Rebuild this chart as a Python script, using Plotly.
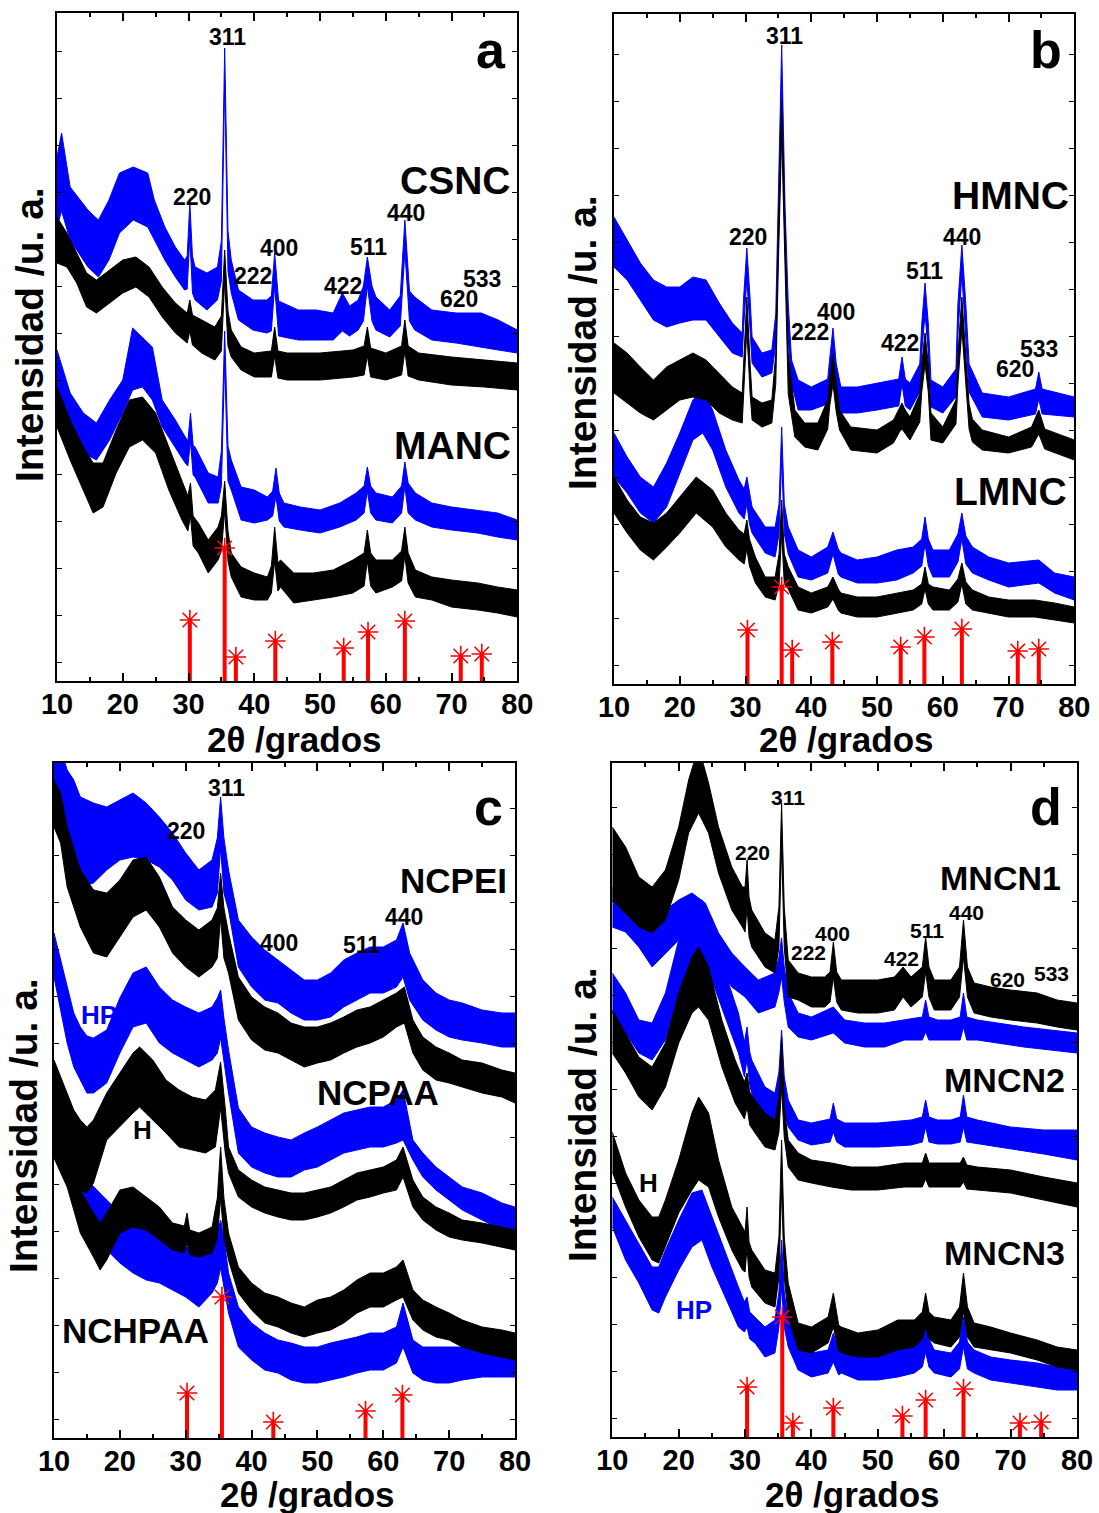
import plotly.graph_objects as go

# ------------------------------------------------------------------
# Panel a  (intensity in arbitrary units, axis 0..668)
# ------------------------------------------------------------------
a_csnc_blue_x = [10, 10.7, 12, 14.7, 16.3, 17.9, 19.5, 21.6, 23.8, 24.8, 26.4, 28.0, 29.4, 29.8, 30.2, 30.6, 31.0, 32.8, 34.4, 35.0,
                 35.5, 36.0, 36.5, 37.6, 39.8, 41.9, 42.6, 43.1, 43.7, 46.7, 49.4, 52.0, 53.4, 54.5, 55.8, 56.6, 57.2, 57.9, 58.5, 60.6,
                 62.2, 62.9, 63.6, 64.4, 67.0, 70.7, 74.5, 77.1, 80]
a_csnc_blue_hi = [524, 548, 494, 471, 461, 481, 508, 514, 508, 481, 454, 434, 421, 425, 478, 425, 414, 408, 414, 440,
                  633, 450, 421, 391, 381, 381, 385, 428, 380, 371, 371, 368, 388, 375, 381, 395, 424, 395, 384, 371,
                  385, 461, 390, 384, 371, 368, 368, 361, 351]
a_csnc_blue_lo = [454, 470, 441, 414, 404, 421, 448, 461, 454, 441, 421, 404, 391, 392, 445, 388, 381, 371, 381, 400,
                  600, 410, 388, 361, 351, 348, 350, 395, 345, 341, 341, 341, 350, 345, 351, 360, 395, 360, 351, 344,
                  355, 430, 360, 351, 341, 338, 334, 331, 328]

a_csnc_black_x = [10, 11.5, 13, 14.5, 16, 18, 20, 22, 24, 26, 28, 29.8, 30.2, 30.6, 32, 34, 35.0, 35.5, 36.0, 36.5,
                  38, 40, 42.6, 43.1, 43.6, 45, 50, 55, 56.7, 57.2, 57.7, 60, 62.4, 62.9, 63.4, 65, 70, 75, 80]
a_csnc_black_hi = [464, 448, 428, 408, 401, 411, 421, 424, 414, 394, 378, 368, 381, 366, 361, 354, 365, 431, 370, 351,
                   334, 328, 330, 354, 330, 328, 328, 331, 335, 354, 333, 328, 335, 361, 335, 328, 324, 321, 318]
a_csnc_black_lo = [418, 414, 398, 374, 368, 378, 388, 394, 384, 364, 348, 338, 350, 336, 328, 321, 330, 400, 335, 324,
                   311, 304, 304, 325, 303, 301, 301, 304, 306, 325, 304, 301, 306, 330, 305, 301, 296, 294, 291]

a_manc_blue_x = [10, 12, 14, 16, 18, 20, 21.5, 23, 24.5, 26, 28, 29.5, 29.9, 30.3, 30.7, 31, 33, 34.5, 35.0, 35.5,
                 36.0, 36.5, 38, 40, 42, 42.8, 43.3, 43.8, 44.5, 47, 50, 53, 55.5, 56.7, 57.2, 57.7, 58.5, 61, 62.4, 62.9,
                 63.4, 64.5, 67, 70, 74, 77, 80]
a_manc_blue_hi = [331, 288, 268, 258, 281, 301, 353, 344, 334, 281, 261, 244, 240, 268, 236, 234, 208, 204, 230, 350,
                  235, 221, 194, 191, 184, 190, 213, 188, 178, 174, 171, 178, 188, 195, 214, 195, 188, 184, 195, 219,
                  198, 188, 178, 174, 171, 168, 161]
a_manc_blue_lo = [268, 248, 228, 221, 241, 268, 291, 294, 281, 254, 234, 218, 215, 240, 206, 204, 178, 178, 195, 320,
                  200, 191, 161, 158, 161, 165, 185, 160, 154, 151, 148, 154, 161, 168, 190, 168, 161, 158, 168, 195,
                  168, 161, 154, 151, 148, 144, 141]

a_manc_black_x = [10, 12, 14, 15.5, 17, 19, 21, 23, 25, 27, 29, 29.9, 30.3, 30.7, 31.5, 33, 34.5, 35.0, 35.5, 36.0,
                  36.5, 38, 40, 42, 42.6, 43.1, 43.6, 44, 46, 49, 52, 55, 56.7, 57.2, 57.7, 58.5, 61, 62.4, 62.9, 63.4,
                  64.5, 67, 70, 74, 77, 80]
a_manc_black_hi = [294, 261, 234, 218, 218, 251, 281, 284, 268, 234, 201, 185, 198, 165, 158, 141, 154, 165, 200, 150,
                   128, 114, 108, 104, 115, 154, 118, 121, 108, 108, 111, 121, 128, 151, 128, 121, 121, 130, 154, 128,
                   111, 104, 101, 98, 94, 91]
a_manc_black_lo = [254, 221, 191, 168, 174, 208, 234, 241, 228, 191, 161, 150, 165, 135, 128, 108, 121, 130, 170, 120,
                   104, 84, 81, 81, 88, 120, 90, 94, 78, 81, 84, 88, 95, 120, 95, 88, 94, 100, 125, 98,
                   84, 81, 74, 71, 68, 64]

a_ref_pos = [30.2, 35.5, 37.2, 43.2, 53.6, 57.3, 62.9, 71.4, 74.6]
a_ref_int = [61, 133, 24, 40, 33, 49, 60, 25, 27]

a_hkl = ["311", "220", "400", "222", "422", "511", "440", "620", "533"]
a_hkl_x = [36.0, 30.6, 43.8, 39.8, 53.5, 57.3, 63.0, 71.2, 74.7]
a_hkl_y = [644, 484, 433, 405, 395, 434, 468, 382, 402]
a_names = ["CSNC", "MANC"]
a_names_x = [79.3, 79.3]
a_names_y = [501, 236]

# ------------------------------------------------------------------
# Panel b  (axis 0..670)
# ------------------------------------------------------------------
b_hmnc_blue_x = [10, 12, 14, 16, 18, 20, 22, 24, 26, 28, 29.5, 29.7, 30.2, 30.7, 31, 32.5, 34, 34.6, 35.0, 35.5,
                 36.0, 36.5, 37, 38, 40, 42.5, 42.8, 43.3, 43.8, 44.5, 47, 50, 53.3, 53.8, 54.3, 55, 56.5, 56.8, 57.3, 57.8,
                 58.2, 60, 62, 62.3, 62.9, 63.5, 64.0, 66, 70, 74.1, 74.6, 75.1, 80]
b_hmnc_blue_hi = [467, 444, 421, 404, 397, 397, 407, 404, 381, 361, 351, 385, 436, 385, 347, 331, 334, 370, 480, 639,
                  480, 380, 324, 304, 297, 305, 325, 356, 320, 297, 297, 301, 305, 327, 305, 301, 320, 360, 401, 360,
                  304, 297, 315, 380, 439, 380, 320, 291, 287, 295, 312, 295, 287]
b_hmnc_blue_lo = [417, 404, 384, 364, 357, 361, 364, 364, 347, 331, 327, 355, 405, 355, 321, 307, 311, 340, 440, 600,
                  440, 345, 301, 274, 274, 280, 298, 330, 292, 271, 271, 274, 278, 300, 278, 274, 292, 332, 370, 332,
                  277, 271, 287, 350, 410, 350, 292, 267, 264, 270, 285, 270, 267]

b_hmnc_black_x = [10, 12, 14, 16, 18, 20, 22, 24, 26, 28, 29.5, 29.7, 30.2, 30.7, 31, 32.5, 34, 34.6, 35.0, 35.5,
                  36.0, 36.5, 37.5, 39, 41, 42.5, 42.8, 43.3, 43.8, 44.3, 46, 50, 52.5, 53.4, 53.8, 54.2, 55, 56.5, 56.8, 57.3,
                  57.8, 58.2, 60, 62, 62.3, 62.9, 63.5, 64.0, 64.5, 66, 70, 73.5, 74.6, 75.5, 80]
b_hmnc_black_hi = [341, 331, 317, 304, 317, 324, 331, 324, 311, 297, 291, 320, 387, 320, 287, 281, 284, 330, 460, 584,
                   460, 330, 274, 261, 261, 284, 305, 330, 300, 274, 257, 254, 264, 275, 281, 275, 267, 290, 320, 351,
                   320, 271, 257, 284, 330, 387, 330, 280, 265, 254, 247, 257, 274, 255, 244]
b_hmnc_black_lo = [291, 281, 271, 264, 274, 284, 287, 284, 271, 264, 261, 290, 355, 290, 264, 257, 261, 300, 420, 550,
                   420, 290, 247, 237, 234, 255, 278, 300, 272, 254, 234, 231, 241, 252, 255, 252, 244, 262, 292, 320,
                   292, 244, 241, 260, 300, 355, 300, 255, 242, 234, 231, 237, 250, 235, 224]

b_lmnc_blue_x = [10, 12, 14, 16, 18, 20, 22, 23.5, 25, 27, 29, 29.8, 30.2, 30.6, 31, 33, 34.5, 35.1, 35.5, 35.9,
                 36.5, 38, 40, 42.5, 43.3, 44.1, 44.5, 47, 50, 53, 55.5, 56.8, 57.3, 57.8, 58.5, 61, 62.3, 62.9, 63.5, 64.5,
                 67, 70, 74.6, 77, 80]
b_lmnc_blue_hi = [251, 227, 207, 197, 221, 251, 284, 294, 274, 234, 204, 195, 207, 190, 177, 157, 157, 180, 257, 180,
                  157, 134, 127, 137, 152, 135, 131, 124, 127, 134, 137, 145, 167, 145, 134, 134, 150, 171, 148, 137,
                  127, 121, 124, 111, 107]
b_lmnc_blue_lo = [207, 191, 171, 161, 177, 211, 244, 251, 234, 197, 171, 165, 180, 160, 151, 131, 127, 150, 225, 150,
                  130, 107, 104, 111, 130, 110, 107, 101, 101, 104, 111, 118, 140, 118, 107, 107, 122, 145, 120, 111,
                  104, 97, 101, 91, 84]

b_lmnc_black_x = [10, 12, 14, 16, 18, 20, 22.5, 25, 27, 29, 29.8, 30.2, 30.6, 31.5, 33, 34.5, 35.1, 35.5, 35.9, 36.5,
                  38, 40, 42.5, 43.3, 44.1, 44.5, 47, 50, 53, 55.5, 56.8, 57.3, 57.8, 58.5, 61, 62.3, 62.9, 63.5, 64.5, 67,
                  70, 74, 77, 80]
b_lmnc_black_hi = [207, 184, 167, 161, 171, 187, 207, 194, 171, 154, 150, 164, 145, 127, 107, 107, 130, 184, 130, 117,
                   97, 91, 97, 107, 95, 91, 87, 87, 91, 94, 100, 117, 100, 97, 94, 105, 121, 102, 94, 87,
                   84, 84, 81, 77]
b_lmnc_black_lo = [171, 151, 134, 124, 137, 151, 171, 157, 137, 124, 120, 135, 118, 101, 87, 84, 100, 150, 100, 95,
                   74, 71, 77, 85, 74, 71, 67, 67, 71, 74, 80, 95, 80, 74, 74, 82, 100, 80, 74, 71,
                   67, 67, 64, 61]

b_ref_pos = [30.3, 35.5, 37.1, 43.2, 53.6, 57.2, 62.9, 71.4, 74.6]
b_ref_int = [54, 97, 34, 42, 37, 47, 55, 33, 35]

b_hkl = ["311", "220", "400", "222", "422", "511", "440", "620", "533"]
b_hkl_x = [36.0, 30.4, 43.7, 39.8, 53.5, 57.2, 62.9, 71.0, 74.7]
b_hkl_y = [648, 447, 372, 352, 341, 413, 447, 315, 335]
b_names = ["HMNC", "LMNC"]
b_names_x = [79.5, 79.2]
b_names_y = [489, 193]

# ------------------------------------------------------------------
# Panel c  (axis 0..675)
# ------------------------------------------------------------------
c_ncpei_blue_x = [10, 11, 12, 13, 14, 16, 18, 20, 22, 24, 26, 28, 30, 32, 34, 34.8, 35.3, 35.8, 36.5, 38,
                  40, 42, 44, 46, 48, 50, 52, 54, 56, 58, 60, 62, 63, 64, 66, 68, 70, 72, 75, 78, 80]
c_ncpei_blue_hi = [700, 690, 668, 658, 641, 635, 631, 638, 645, 635, 621, 605, 585, 568, 578, 600, 641, 600, 568, 518,
                   501, 488, 478, 468, 458, 458, 465, 478, 485, 491, 491, 498, 515, 485, 458, 445, 438, 435, 428, 425, 425]
c_ncpei_blue_lo = [628, 611, 591, 568, 551, 555, 568, 578, 581, 578, 571, 558, 538, 528, 531, 545, 590, 545, 528, 471,
                   451, 438, 435, 425, 418, 418, 421, 431, 438, 445, 445, 451, 461, 438, 418, 408, 401, 398, 395, 391, 391]

c_ncpei_black_x = [10, 11, 12, 14, 16, 18, 20, 22, 24, 26, 28, 30, 32, 34, 34.8, 35.3, 35.8, 36.5, 38, 40,
                   42, 44, 46, 48, 50, 52, 54, 56, 58, 60, 62, 63.2, 64.5, 66, 68, 70, 72, 75, 78, 80]
c_ncpei_black_hi = [658, 645, 611, 568, 548, 545, 558, 578, 581, 561, 531, 518, 508, 518, 530, 565, 530, 505, 461, 441,
                    431, 425, 415, 411, 411, 415, 421, 428, 431, 438, 445, 451, 418, 401, 391, 385, 378, 375, 368, 365]
c_ncpei_black_lo = [611, 595, 551, 511, 485, 481, 501, 521, 528, 511, 485, 471, 461, 471, 480, 520, 480, 465, 418, 398,
                    388, 385, 378, 371, 375, 378, 385, 391, 395, 401, 411, 415, 385, 368, 358, 355, 351, 345, 341, 335]

c_ncpaa_blue_x = [10, 11, 12, 13, 14, 15, 16, 18, 20, 22, 24, 26, 28, 30, 32, 34, 34.8, 35.3, 35.8, 36.5,
                  38, 40, 42, 44, 46, 48, 50, 52, 54, 56, 58, 60, 62, 63, 64.5, 66, 68, 70, 72, 75, 78, 80]
c_ncpaa_blue_hi = [505, 478, 451, 425, 411, 402, 400, 408, 440, 465, 471, 451, 438, 431, 425, 431, 440, 448, 420, 388,
                   330, 311, 305, 301, 298, 305, 311, 318, 325, 328, 331, 331, 338, 348, 298, 285, 271, 261, 251, 245, 235, 231]
c_ncpaa_blue_lo = [461, 428, 395, 371, 358, 345, 345, 355, 385, 411, 415, 395, 385, 378, 371, 378, 385, 400, 375, 345,
                   285, 271, 265, 261, 261, 268, 271, 278, 285, 288, 291, 291, 295, 298, 278, 261, 248, 238, 228, 218, 208, 205]

c_ncpaa_black_x = [10, 11, 12, 13, 14, 15, 16, 18, 20, 22, 23, 25, 27, 29, 31, 33, 34.5, 35.3, 36.0, 36.5,
                   38, 40, 42, 44, 46, 48, 50, 52, 54, 56, 58, 60, 62, 63, 64.5, 66, 68, 70, 72, 75, 78, 80]
c_ncpaa_black_hi = [378, 361, 345, 328, 318, 311, 318, 345, 365, 385, 391, 378, 358, 348, 341, 338, 348, 376, 330, 291,
                    268, 258, 251, 248, 245, 245, 248, 251, 258, 265, 268, 271, 278, 291, 258, 241, 231, 225, 218, 215, 211, 208]
c_ncpaa_black_lo = [318, 298, 285, 261, 248, 245, 255, 298, 311, 325, 331, 318, 305, 291, 288, 285, 291, 330, 285, 265,
                    241, 231, 225, 221, 218, 218, 221, 225, 231, 238, 241, 245, 248, 261, 231, 218, 208, 201, 198, 195, 191, 188]

c_nchpaa_black_x = [10, 12, 14, 16, 17, 18, 20, 22, 24, 26, 28, 29.8, 30.2, 30.6, 32, 34, 34.8, 35.3, 35.8, 36.5,
                    38, 40, 42, 44, 46, 48, 50, 52, 54, 56, 58, 60, 62, 63, 64.5, 66, 68, 70, 72, 75, 78, 80]
c_nchpaa_black_hi = [320, 285, 248, 225, 215, 225, 248, 251, 241, 231, 215, 212, 225, 208, 205, 211, 240, 291, 240, 205,
                     171, 155, 145, 141, 135, 131, 138, 141, 148, 158, 165, 165, 171, 178, 148, 138, 131, 125, 118, 111, 108, 105]
c_nchpaa_black_lo = [280, 251, 205, 181, 168, 178, 205, 211, 208, 198, 188, 185, 195, 183, 181, 185, 200, 240, 200, 178,
                     145, 128, 115, 111, 105, 101, 105, 108, 115, 125, 131, 131, 138, 141, 118, 108, 101, 98, 91, 85, 81, 78]

c_nchpaa_blue_x = [10, 12, 14, 16, 18, 20, 22, 24, 26, 28, 30, 32, 34, 34.8, 35.3, 35.8, 36.5, 38, 40, 42,
                   44, 46, 48, 50, 52, 54, 56, 58, 60, 62, 63, 64.5, 66, 68, 70, 72, 75, 78, 80]
c_nchpaa_blue_hi = [370, 311, 265, 251, 238, 225, 215, 208, 205, 198, 191, 188, 198, 205, 218, 200, 165, 131, 115, 105,
                    98, 95, 91, 91, 95, 98, 101, 105, 105, 111, 135, 98, 91, 91, 91, 91, 95, 95, 95]
c_nchpaa_blue_lo = [300, 265, 225, 205, 188, 175, 165, 158, 155, 148, 141, 131, 145, 155, 170, 150, 125, 91, 78, 68,
                    65, 58, 55, 55, 58, 61, 65, 68, 68, 75, 91, 65, 58, 55, 55, 58, 61, 61, 61]

c_ref_pos = [30.2, 35.5, 43.3, 57.3, 62.9]
c_ref_int = [45, 141, 16, 27, 43]

c_hkl = ["311", "220", "440", "400", "511"]
c_hkl_x = [36.2, 30.0, 63.2, 44.1, 56.7]
c_hkl_y = [650, 607, 521, 495, 493]
c_names = ["NCPEI", "NCPAA", "NCHPAA"]
c_names_x = [79.1, 68.7, 10.85]
c_names_y = [558, 346, 108]
c_names_anchor = ["right", "right", "left"]

# ------------------------------------------------------------------
# Panel d  (axis 0..674)
# ------------------------------------------------------------------
d_mncn1_black_x = [10, 12, 14, 16, 18, 20, 21.5, 23, 24.5, 26, 28, 29.6, 30.0, 30.3, 30.6, 31, 33, 34.5, 35.1, 35.5,
                   35.9, 36.5, 38, 40, 42, 42.8, 43.3, 43.8, 44.5, 47, 50, 52.5, 53.8, 55, 56.7, 57.2, 57.7, 58.5, 61, 62.3,
                   62.9, 63.5, 64.5, 67, 70, 74, 77, 80]
d_mncn1_black_hi = [610, 590, 560, 550, 567, 610, 657, 690, 654, 610, 570, 550, 550, 577, 540, 527, 504, 497, 530, 634,
                    530, 477, 464, 460, 460, 465, 495, 465, 457, 457, 457, 460, 470, 460, 470, 500, 470, 457, 457, 470,
                    517, 470, 454, 450, 447, 444, 437, 434]
d_mncn1_black_lo = [537, 524, 510, 504, 517, 557, 604, 624, 604, 564, 527, 510, 505, 530, 500, 490, 470, 464, 490, 590,
                    490, 440, 437, 430, 430, 435, 460, 435, 427, 424, 424, 427, 440, 430, 440, 465, 440, 427, 427, 440,
                    480, 440, 424, 420, 417, 414, 410, 407]

d_mncn1_blue_x = [10, 12, 14, 16, 18, 20, 22, 24, 26, 28, 30, 32, 34.5, 35.1, 35.5, 35.9, 36.5, 38, 40, 43.3,
                  45, 48, 51, 54, 56.7, 57.2, 57.7, 59, 61, 62.4, 62.9, 63.4, 65, 68, 72, 76, 80]
d_mncn1_blue_hi = [550, 537, 520, 510, 527, 537, 544, 534, 504, 484, 470, 457, 464, 480, 499, 470, 444, 424, 420, 430,
                   417, 414, 414, 417, 420, 437, 420, 417, 417, 420, 444, 420, 417, 414, 410, 407, 404]
d_mncn1_blue_lo = [510, 505, 490, 470, 484, 497, 504, 494, 470, 450, 440, 424, 430, 445, 460, 435, 410, 400, 397, 404,
                   394, 390, 390, 397, 397, 405, 397, 397, 397, 397, 410, 397, 397, 394, 390, 387, 384]

d_mncn2_blue_x = [10, 12, 14, 16, 18, 20, 22, 23.5, 25, 27, 29, 29.9, 30.3, 30.7, 31, 33, 34.5, 35.1, 35.5, 35.9,
                  36.5, 38, 40, 42.8, 43.3, 43.8, 45, 50, 55, 56.7, 57.2, 57.7, 59, 61, 62.4, 62.9, 63.4, 65, 70, 75, 80]
d_mncn2_blue_hi = [464, 444, 417, 414, 444, 497, 534, 537, 510, 464, 424, 395, 410, 385, 377, 350, 344, 365, 407, 360,
                   337, 317, 314, 318, 334, 318, 314, 314, 317, 320, 337, 320, 317, 317, 320, 342, 320, 317, 310, 307, 307]
d_mncn2_blue_lo = [424, 404, 384, 377, 397, 444, 477, 480, 457, 420, 384, 360, 378, 352, 344, 317, 314, 330, 360, 325,
                   310, 297, 292, 295, 305, 295, 290, 290, 292, 295, 310, 295, 293, 293, 295, 310, 295, 293, 288, 283, 277]

d_mncn2_black_x = [10, 12, 14, 16, 18, 20, 22, 23, 24.5, 26.5, 28.5, 29.9, 30.3, 30.7, 31.5, 33, 34.5, 35.1, 35.5, 35.9,
                   36.5, 38, 40, 43, 46, 50, 54, 56.7, 57.2, 57.7, 60, 62.4, 62.9, 63.4, 65, 70, 75, 80]
d_mncn2_black_hi = [427, 404, 380, 370, 394, 444, 480, 490, 470, 417, 377, 355, 364, 345, 337, 324, 317, 340, 400, 330,
                    297, 284, 277, 274, 270, 270, 274, 274, 284, 274, 274, 274, 280, 272, 270, 267, 260, 254]
d_mncn2_black_lo = [384, 364, 340, 327, 350, 394, 424, 430, 417, 370, 334, 318, 330, 312, 304, 290, 287, 305, 350, 300,
                    270, 257, 254, 250, 247, 247, 250, 250, 258, 250, 250, 250, 255, 248, 247, 244, 237, 230]

d_mncn3_black_x = [10, 12, 14, 16, 17, 18, 20, 22, 23, 24.5, 26, 28, 29.6, 30.0, 30.3, 30.6, 31, 33, 34.5, 35.1,
                   35.5, 35.9, 36.5, 38, 40, 42.5, 43.3, 44.1, 44.5, 47, 50, 53, 55.5, 56.7, 57.2, 57.7, 58.5, 61, 62.3, 62.9,
                   63.5, 64.5, 67, 70, 74, 77, 80]
d_mncn3_black_hi = [305, 264, 237, 220, 220, 237, 277, 324, 340, 324, 277, 230, 210, 205, 230, 195, 187, 167, 164, 200,
                    297, 200, 154, 114, 110, 120, 144, 112, 110, 104, 107, 117, 117, 125, 144, 125, 120, 117, 130, 164,
                    130, 114, 110, 104, 97, 90, 87]
d_mncn3_black_lo = [265, 230, 200, 177, 174, 190, 224, 247, 257, 250, 220, 187, 167, 165, 190, 160, 150, 134, 130, 160,
                    250, 160, 120, 87, 84, 94, 110, 86, 84, 80, 80, 87, 90, 98, 110, 98, 94, 90, 100, 125,
                    100, 90, 87, 84, 77, 70, 67]

d_mncn3_blue_x = [10, 12, 14, 16, 17, 18, 20, 22, 23.5, 25, 27, 29, 29.9, 30.3, 30.7, 31.5, 33, 34.5, 35.1, 35.5,
                  35.9, 36.5, 38, 40, 42.5, 43.3, 44.1, 44.5, 47, 50, 53, 55.5, 56.7, 57.2, 57.7, 58.5, 61, 62.3, 62.9, 63.5,
                  64.5, 67, 70, 74, 77, 80]
d_mncn3_blue_hi = [240, 217, 194, 170, 170, 187, 217, 244, 247, 220, 184, 150, 135, 140, 125, 120, 110, 117, 145, 197,
                   145, 117, 94, 84, 87, 104, 86, 84, 80, 80, 87, 90, 98, 117, 98, 87, 84, 95, 120, 95,
                   87, 80, 77, 74, 70, 67]
d_mncn3_blue_lo = [210, 177, 154, 127, 124, 140, 167, 190, 197, 170, 140, 110, 105, 110, 98, 94, 80, 84, 110, 150,
                   110, 90, 67, 60, 64, 75, 62, 64, 57, 57, 60, 64, 70, 85, 70, 64, 60, 68, 90, 68,
                   64, 57, 54, 50, 47, 47]

d_ref_pos = [30.3, 35.6, 37.2, 43.3, 53.7, 57.2, 62.9, 71.4, 74.6]
d_ref_int = [50, 120, 14, 29, 21, 37, 48, 14, 15]

d_hkl = ["311", "220", "400", "222", "422", "511", "440", "620", "533"]
d_hkl_x = [36.5, 31.1, 43.2, 39.5, 53.5, 57.4, 63.3, 69.6, 76.1]
d_hkl_y = [640, 585, 504, 485, 479, 507, 525, 458, 464]
d_names = ["MNCN1", "MNCN2", "MNCN3"]
d_names_x = [77.9, 78.5, 78.5]
d_names_y = [559, 357, 184]

panel_letters = ["a", "b", "c", "d"]
panel_letters_x = [76.0, 75.7, 75.9, 75.4]
panel_letters_y = [631, 634, 631, 630]

x_ticks = [10, 20, 30, 40, 50, 60, 70, 80]

# ------------------------------------------------------------------
# Figure construction
# ------------------------------------------------------------------
W, H = 1099, 1513
BLUE, BLACK, RED = "#0000ff", "#000000", "#ff0000"
FONT = "Liberation Sans, Arial, Helvetica, sans-serif"

# plot-area boxes in pixels: left, right, top, bottom ; y-axis top value
panels = [
    dict(x="x", y="y", box=(57, 517.3, 13, 681), ymax=668),
    dict(x="x2", y="y2", box=(614, 1074.3, 14, 684), ymax=670),
    dict(x="x3", y="y3", box=(54, 515, 763, 1438), ymax=675),
    dict(x="x4", y="y4", box=(612.3, 1077, 763, 1437), ymax=674),
]

fig = go.Figure()


def band(p, x, lo, hi, color):
    fig.add_trace(go.Scatter(
        x=list(x) + list(x)[::-1], y=list(hi) + list(lo)[::-1],
        mode="lines", fill="toself", fillcolor=color,
        line=dict(color=color, width=1), xaxis=p["x"], yaxis=p["y"],
        hoverinfo="skip", showlegend=False))


def sticks(p, pos, inten):
    xs, ys = [], []
    for a, b in zip(pos, inten):
        xs += [a, a, None]
        ys += [0, b, None]
    fig.add_trace(go.Scatter(x=xs, y=ys, mode="lines", line=dict(color=RED, width=4),
                             xaxis=p["x"], yaxis=p["y"], hoverinfo="skip", showlegend=False))
    fig.add_trace(go.Scatter(x=pos, y=inten, mode="markers",
                             marker=dict(symbol="asterisk-open", size=17, color=RED,
                                         line=dict(color=RED, width=1.6)),
                             xaxis=p["x"], yaxis=p["y"], hoverinfo="skip", showlegend=False))


pa, pb, pc, pd = panels

# panel a
band(pa, a_csnc_blue_x, a_csnc_blue_lo, a_csnc_blue_hi, BLUE)
band(pa, a_manc_blue_x, a_manc_blue_lo, a_manc_blue_hi, BLUE)
band(pa, a_csnc_black_x, a_csnc_black_lo, a_csnc_black_hi, BLACK)
band(pa, a_manc_black_x, a_manc_black_lo, a_manc_black_hi, BLACK)
sticks(pa, a_ref_pos, a_ref_int)

# panel b
band(pb, b_hmnc_blue_x, b_hmnc_blue_lo, b_hmnc_blue_hi, BLUE)
band(pb, b_lmnc_blue_x, b_lmnc_blue_lo, b_lmnc_blue_hi, BLUE)
band(pb, b_hmnc_black_x, b_hmnc_black_lo, b_hmnc_black_hi, BLACK)
band(pb, b_lmnc_black_x, b_lmnc_black_lo, b_lmnc_black_hi, BLACK)
sticks(pb, b_ref_pos, b_ref_int)

# panel c
band(pc, c_ncpei_blue_x, c_ncpei_blue_lo, c_ncpei_blue_hi, BLUE)
band(pc, c_ncpaa_blue_x, c_ncpaa_blue_lo, c_ncpaa_blue_hi, BLUE)
band(pc, c_nchpaa_blue_x, c_nchpaa_blue_lo, c_nchpaa_blue_hi, BLUE)
band(pc, c_ncpei_black_x, c_ncpei_black_lo, c_ncpei_black_hi, BLACK)
band(pc, c_ncpaa_black_x, c_ncpaa_black_lo, c_ncpaa_black_hi, BLACK)
band(pc, c_nchpaa_black_x, c_nchpaa_black_lo, c_nchpaa_black_hi, BLACK)
sticks(pc, c_ref_pos, c_ref_int)

# panel d
band(pd, d_mncn1_blue_x, d_mncn1_blue_lo, d_mncn1_blue_hi, BLUE)
band(pd, d_mncn2_blue_x, d_mncn2_blue_lo, d_mncn2_blue_hi, BLUE)
band(pd, d_mncn3_blue_x, d_mncn3_blue_lo, d_mncn3_blue_hi, BLUE)
band(pd, d_mncn1_black_x, d_mncn1_black_lo, d_mncn1_black_hi, BLACK)
band(pd, d_mncn2_black_x, d_mncn2_black_lo, d_mncn2_black_hi, BLACK)
band(pd, d_mncn3_black_x, d_mncn3_black_lo, d_mncn3_black_hi, BLACK)
sticks(pd, d_ref_pos, d_ref_int)

layout = dict(template="none", width=W, height=H, margin=dict(l=0, r=0, t=0, b=0, pad=0, autoexpand=False),
              paper_bgcolor="white", plot_bgcolor="white", showlegend=False,
              font=dict(family=FONT, color=BLACK))

for i, p in enumerate(panels):
    l, r, t, b = p["box"]
    suffix = "" if i == 0 else str(i + 1)
    layout["xaxis" + suffix] = dict(
        domain=[l / W, r / W], range=[10, 80], anchor=p["y"], automargin=False,
        showline=True, linewidth=2, linecolor=BLACK, mirror="ticks",
        ticks="inside", ticklen=8, tickwidth=1.5, tickcolor=BLACK,
        tickvals=x_ticks, ticktext=[str(v) for v in x_ticks], ticklabelstandoff=-4,
        tickfont=dict(size=29, family=FONT, color=BLACK, weight="bold"),
        minor=dict(dtick=5, tick0=5, ticks="inside", ticklen=4, tickwidth=1.5, tickcolor=BLACK, showgrid=False),
        showgrid=False, zeroline=False, fixedrange=True)
    layout["yaxis" + suffix] = dict(
        domain=[1 - b / H, 1 - t / H], range=[0, p["ymax"]], anchor=p["x"], automargin=False,
        showline=True, linewidth=2, linecolor=BLACK, mirror="ticks",
        ticks="inside", ticklen=5, tickwidth=1.2, tickcolor=BLACK, tick0=19, dtick=47,
        showticklabels=False, showgrid=False, zeroline=False, fixedrange=True)

fig.update_layout(**layout)

ann = []


def txt(xref, yref, x, y, s, size, color=BLACK, xanchor="center"):
    ann.append(dict(xref=xref, yref=yref, x=x, y=y, text=s, showarrow=False,
                    xanchor=xanchor, yanchor="middle",
                    font=dict(family=FONT, size=size, color=color, weight="bold")))


# hkl labels
for p, labs, xs, ys, fs in [(pa, a_hkl, a_hkl_x, a_hkl_y, 23), (pb, b_hkl, b_hkl_x, b_hkl_y, 23),
                            (pc, c_hkl, c_hkl_x, c_hkl_y, 23), (pd, d_hkl, d_hkl_x, d_hkl_y, 21)]:
    for s, xv, yv in zip(labs, xs, ys):
        txt(p["x"], p["y"], xv, yv, s, fs)

# sample names
for s, xv, yv in zip(a_names, a_names_x, a_names_y):
    txt("x", "y", xv, yv, s, 39, xanchor="right")
for s, xv, yv in zip(b_names, b_names_x, b_names_y):
    txt("x2", "y2", xv, yv, s, 39, xanchor="right")
for s, xv, yv, an in zip(c_names, c_names_x, c_names_y, c_names_anchor):
    txt("x3", "y3", xv, yv, s, 35, xanchor=an)
for s, xv, yv in zip(d_names, d_names_x, d_names_y):
    txt("x4", "y4", xv, yv, s, 34, xanchor="right")

# H / HP markers
txt("x3", "y3", 16.9, 423, "HP", 26, color=BLUE)
txt("x3", "y3", 23.5, 308, "H", 26)
txt("x4", "y4", 15.4, 254, "H", 26)
txt("x4", "y4", 22.3, 127, "HP", 26, color=BLUE)

# panel letters
for p, s, xv, yv in zip(panels, panel_letters, panel_letters_x, panel_letters_y):
    txt(p["x"], p["y"], xv, yv, s, 52)

# axis titles (paper coordinates from pixel centres)
for cx, cy in [(294, 739), (846, 739), (307, 1494), (852, 1494)]:
    txt("paper", "paper", cx / W, 1 - cy / H, "2\u03b8 /grados", 35)
for cx, cy in [(29, 335), (582, 342), (23, 1126), (582, 1114)]:
    ann.append(dict(xref="paper", yref="paper", x=cx / W, y=1 - cy / H, text="Intensidad /u. a.",
                    textangle=-90, showarrow=False, xanchor="center", yanchor="middle",
                    font=dict(family=FONT, size=39, color=BLACK, weight="bold")))

fig.update_layout(annotations=ann)
fig.write_html("out.html", config={"displayModeBar": False})
